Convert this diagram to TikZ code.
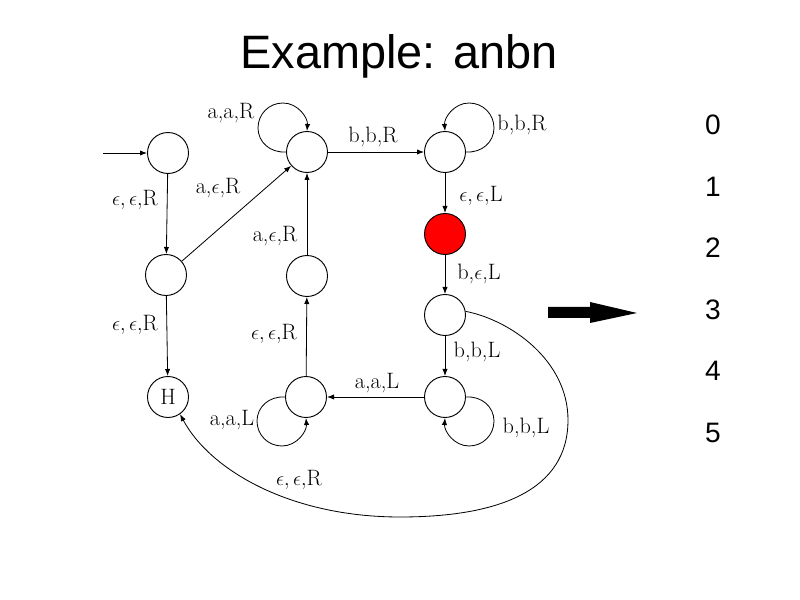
\documentclass[tikz,border=0pt]{standalone}
\usepackage{fontspec}
\newfontfamily\arialfont{Liberation Sans}
\usetikzlibrary{arrows.meta}
\begin{document}
\begin{tikzpicture}[x=0.03cm,y=-0.03cm,
  st/.style={circle,draw,line width=0.8pt,minimum size=1.23cm,inner sep=0pt,font=\fontsize{19}{22}\selectfont},
  edge/.style={-{Latex[length=6pt,width=4.5pt]},line width=0.7pt},
  lab/.style={font=\fontsize{19}{22}\selectfont,inner sep=0pt},
  num/.style={font=\arialfont\fontsize{24}{28}\selectfont,inner sep=0pt},
  bigarrow/.style={fill=black}]
\useasboundingbox (0,0) rectangle (800,600);
% title
\node[font=\arialfont\fontsize{40}{46}\selectfont,anchor=base,inner sep=0pt] (title) at (399,69) {Example: anbn};
% states
\node[st] (S0) at (168,153) {};
\node[st] (S1) at (307,152) {};
\node[st] (S2) at (445,152) {};
\node[st,fill=red] (S3) at (445,234) {};
\node[st] (S4) at (445,315) {};
\node[st] (S5) at (445,397) {};
\node[st] (S6) at (306,397) {};
\node[st] (S7) at (307,276) {};
\node[st] (Sa) at (166,275) {};
\node[st] (H) at (168,397) {H};
\coordinate (init) at (103,153);
% edges
\draw[edge] (init) -- (S0);
\draw[edge] (S0) -- (Sa);
\draw[edge] (Sa) -- (H);
\draw[edge] (Sa) -- (S1);
\draw[edge] (S1) -- (S2);
\draw[edge] (S2) -- (S3);
\draw[edge] (S3) -- (S4);
\draw[edge] (S4) -- (S5);
\draw[edge] (S5) -- (S6);
\draw[edge] (S6) -- (S7);
\draw[edge] (S7) -- (S1);
% loops
\draw[edge] (S1.180) .. controls (270,153) and (258,142) .. (258,128)
  .. controls (258,114) and (269,103) .. (283,103)
  .. controls (298,103) and (308,118) .. (S1.90);
\draw[edge] (S2.0) .. controls (482,153) and (494,142) .. (494,128)
  .. controls (494,114) and (483,103) .. (469,103)
  .. controls (454,103) and (444,118) .. (S2.90);
\draw[edge] (S5.0) .. controls (482,396) and (494,407) .. (494,421)
  .. controls (494,435) and (483,446) .. (469,446)
  .. controls (454,446) and (444,431) .. (S5.270);
\draw[edge] (S6.180) .. controls (269,396) and (257,407) .. (257,421)
  .. controls (257,435) and (268,446) .. (282,446)
  .. controls (297,446) and (307,431) .. (S6.270);
% long curve
\draw[edge] (S4.10) .. controls (510,320) and (568,360) .. (568,420)
  .. controls (568,490) and (500,517) .. (400,517)
  .. controls (290,517) and (210,470) .. (H.-55);
% labels
\node[lab] (l1) at (135,200) {$\epsilon,\epsilon,$R};
\node[lab] (l2) at (218,188) {a,$\epsilon$,R};
\node[lab] (l3) at (231,113) {a,a,R};
\node[lab] (l4) at (373,137) {b,b,R};
\node[lab] (l5) at (522,125) {b,b,R};
\node[lab] (l6) at (481,196) {$\epsilon,\epsilon,$L};
\node[lab] (l7) at (275,236) {a,$\epsilon$,R};
\node[lab] (l8) at (479,274) {b,$\epsilon$,L};
\node[lab] (l9) at (135,325) {$\epsilon,\epsilon,$R};
\node[lab] (l10) at (274,334) {$\epsilon,\epsilon,$R};
\node[lab] (l11) at (477,352) {b,b,L};
\node[lab] (l12) at (377,383) {a,a,L};
\node[lab] (l13) at (232,420) {a,a,L};
\node[lab] (l14) at (526,428) {b,b,L};
\node[lab] (l15) at (299,480) {$\epsilon,\epsilon,$R};
% big arrow
\fill[bigarrow] (548,307) -- (590,307) -- (590,302) -- (637,313) -- (590,323) -- (590,318) -- (548,318) -- cycle;
% numbers
\node[num] (n0) at (713,125) {0};
\node[num] (n1) at (713,187) {1};
\node[num] (n2) at (713,248) {2};
\node[num] (n3) at (713,310) {3};
\node[num] (n4) at (713,371) {4};
\node[num] (n5) at (713,433) {5};
\end{tikzpicture}
\end{document}
